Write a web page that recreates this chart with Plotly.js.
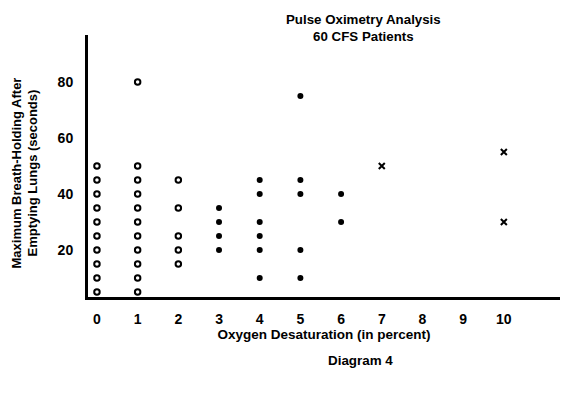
<!DOCTYPE html>
<html>
<head>
<meta charset="utf-8">
<script src="https://cdn.plot.ly/plotly-3.0.1.min.js"></script>
<style>html,body{margin:0;padding:0;background:#fff;}#chart{width:576px;height:393px;}</style>
</head>
<body>
<div id="chart"></div>
<script>
// Open circles
const openX = [0,0,0,0,0,0,0,0,0,0, 1,1,1,1,1,1,1,1,1,1,1, 2,2,2,2,2];
const openY = [50,45,40,35,30,25,20,15,10,5, 80,50,45,40,35,30,25,20,15,10,5, 45,35,25,20,15];
// Filled dots
const dotX = [3,3,3,3, 4,4,4,4,4,4, 5,5,5,5,5, 6,6];
const dotY = [35,30,25,20, 45,40,30,25,20,10, 75,45,40,20,10, 40,30];
// Crosses
const crossX = [7,10,10];
const crossY = [50,55,30];
const xTicks = [0,1,2,3,4,5,6,7,8,9,10];
const yTicks = [20,40,60,80];

const fam = 'Liberation Sans, Arial, sans-serif';
const txt = (s) => ({family: fam, size: s, color: '#000'});

const traces = [
  {x: openX, y: openY, mode: 'markers', type: 'scatter',
   marker: {symbol: 'circle-open', size: 5.5, color: '#000', line: {width: 2, color: '#000'}}},
  {x: dotX, y: dotY, mode: 'markers', type: 'scatter',
   marker: {symbol: 'circle', size: 6, color: '#000'}},
  {x: crossX, y: crossY, mode: 'markers', type: 'scatter',
   marker: {symbol: 'x-thin', size: 6, color: '#000', line: {width: 2, color: '#000'}}}
];

const layout = {
  width: 576, height: 393,
  margin: {l: 88, r: 16, t: 35, b: 96},
  paper_bgcolor: '#fff', plot_bgcolor: '#fff',
  showlegend: false,
  font: txt(13),
  xaxis: {range: [-0.22, 11.38], tickvals: xTicks, showgrid: false, zeroline: false,
          showline: true, linewidth: 3, linecolor: '#000', ticks: '',
          ticklabelstandoff: 7,
          tickfont: {family: fam, size: 14, color: '#000', weight: 700},
          title: {text: '<b>Oxygen Desaturation (in percent)</b>', standoff: 2,
                  font: txt(13.5)}},
  yaxis: {range: [3.2, 96.8], tickvals: yTicks, showgrid: false, zeroline: false,
          showline: true, linewidth: 3, linecolor: '#000', ticks: '',
          ticklabelstandoff: 9,
          tickfont: {family: fam, size: 14, color: '#000', weight: 700}},
  annotations: [
    {text: '<b>Pulse Oximetry Analysis<br>60 CFS Patients</b>', xref: 'paper', yref: 'paper',
     x: (363-88)/472, y: (297-28.5)/262, xanchor: 'center', yanchor: 'middle', showarrow: false,
     font: txt(13.3)},
    {text: '<b>Maximum Breath-Holding After<br>Emptying Lungs (seconds)</b>', xref: 'paper', yref: 'paper',
     x: (24-88)/472, y: (297-173.5)/262, xanchor: 'center', yanchor: 'middle', showarrow: false,
     textangle: -90, font: txt(13)},
    {text: '<b>Diagram 4</b>', xref: 'paper', yref: 'paper', x: (360-88)/472, y: -63/262,
     xanchor: 'center', yanchor: 'middle', showarrow: false,
     font: txt(13.4)}
  ]
};

Plotly.newPlot('chart', traces, layout, {displayModeBar: false, staticPlot: true});
</script>
</body>
</html>
